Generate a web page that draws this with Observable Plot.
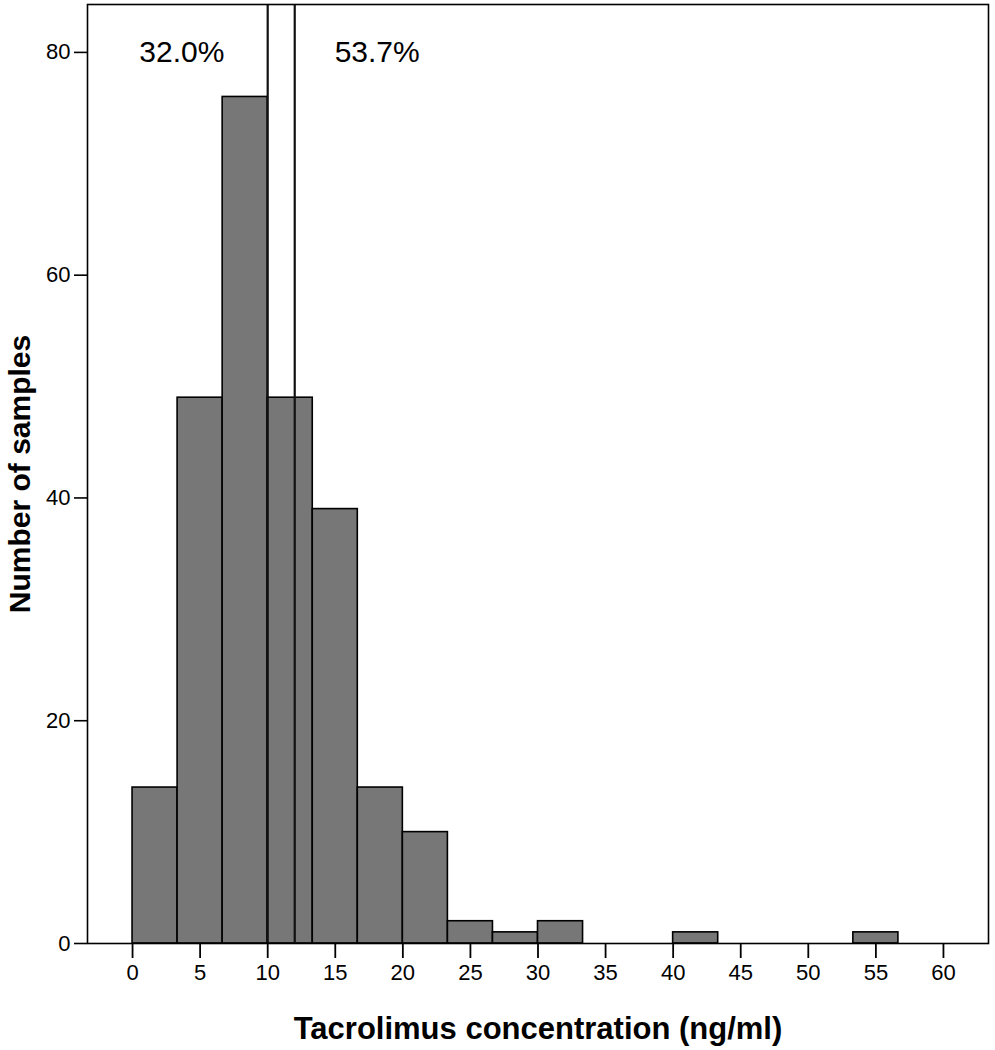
<!DOCTYPE html>
<html>
<head>
<meta charset="utf-8">
<script src="https://cdn.jsdelivr.net/npm/d3@7"></script>
<script src="https://cdn.jsdelivr.net/npm/@observablehq/plot@0.6"></script>
<style>
  html, body { margin: 0; padding: 0; background: #fff; }
  #chart svg { display: block; }
</style>
</head>
<body>
<div id="chart"></div>
<script>
// Histogram bins: width 10/3 ng/ml, starting at 0
const binWidth = 10 / 3;
const binCounts = [14, 49, 76, 49, 39, 14, 10, 2, 1, 2, 0, 0, 1, 0, 0, 0, 1];
// Reference lines (ng/ml)
const refLines = [10, 12];
// Percentage annotations
const annotLabels = ["32.0%", "53.7%"];
const annotX = [3.65, 18.1];
const annotY = [80, 80];
const xTicks = [0, 5, 10, 15, 20, 25, 30, 35, 40, 45, 50, 55, 60];
const yTicks = [0, 20, 40, 60, 80];
const xLabel = "Tacrolimus concentration (ng/ml)";
const yLabel = "Number of samples";

const bins = binCounts
  .map((count, i) => ({ x1: i * binWidth, x2: (i + 1) * binWidth, count }))
  .filter(d => d.count > 0);
const annots = annotLabels.map((text, i) => ({ text, x: annotX[i], y: annotY[i] }));

const chart = Plot.plot({
  width: 995,
  height: 1050,
  marginLeft: 87,
  marginRight: 7,
  marginTop: 4,
  marginBottom: 107,
  style: { fontFamily: "'Liberation Sans', Arial, sans-serif", fontSize: "22px", background: "#fff", color: "#000" },
  x: { domain: [-binWidth, 19 * binWidth] },
  y: { domain: [0, 84.3] },
  marks: [
    Plot.rectY(bins, { x1: "x1", x2: "x2", y: "count", fill: "#777777", stroke: "#000", strokeWidth: 1.6 }),
    Plot.ruleX(refLines, { y1: 0, y2: 84.3, stroke: "#111", strokeWidth: 2.2 }),
    Plot.text(annots, { x: "x", y: "y", text: "text", fontSize: 30, lineAnchor: "middle", fill: "#000" }),
    Plot.frame({ stroke: "#000", strokeWidth: 1.6 }),
    Plot.axisX({ ticks: xTicks, tickSize: 15, tickPadding: 6, fontSize: 22, label: null, strokeWidth: 1.8 }),
    Plot.axisY({ ticks: yTicks, tickSize: 13, tickPadding: 4, fontSize: 22, label: null, strokeWidth: 1.6 }),
    Plot.text([xLabel], { frameAnchor: "bottom", dy: 95, lineAnchor: "bottom", textAnchor: "middle", fontSize: 31, fontWeight: "bold", fill: "#000" }),
    Plot.text([yLabel], { frameAnchor: "left", dx: -58, rotate: -90, lineAnchor: "bottom", textAnchor: "middle", fontSize: 30, fontWeight: "bold", fill: "#000" })
  ]
});
document.getElementById("chart").append(chart);
</script>
</body>
</html>
